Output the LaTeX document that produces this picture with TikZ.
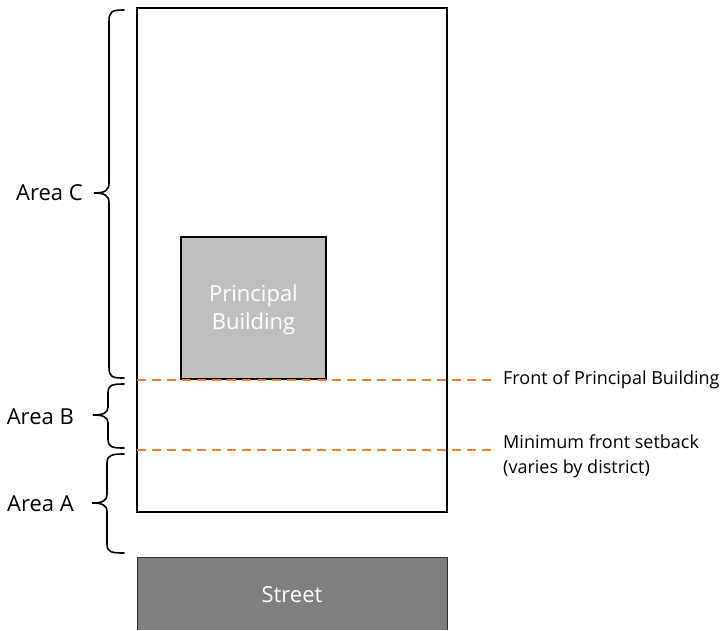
\documentclass[tikz,border=0pt]{standalone}
\usepackage{fontspec}
\setmainfont{Open Sans}
\definecolor{dashorange}{HTML}{ED7D31}
\definecolor{bldgray}{HTML}{BFBFBF}
\definecolor{streetgray}{HTML}{7F7F7F}
\definecolor{streetedge}{HTML}{1F3344}
\begin{document}
\begin{tikzpicture}[x=1pt,y=-1pt,
  lot/.style={draw=black,line width=1.5pt},
  bld/.style={draw=black,line width=1.4pt,fill=bldgray},
  setback/.style={draw=dashorange,line width=1.6pt,dash pattern=on 9pt off 6pt},
  bracestyle/.style={draw=black,line width=1.6pt,line cap=round},
  arealabel/.style={font=\fontsize{22}{26}\selectfont,anchor=east,inner sep=0pt},
  sidelabel/.style={font=\fontsize{18}{25}\selectfont,anchor=west,inner sep=0pt,align=left},
  whitetext/.style={text=white,align=center}]
\useasboundingbox (0,0) rectangle (723,630);
% lot
\node[lot,minimum width=310pt,minimum height=504pt,inner sep=0pt] (lot) at (292,260) {};
% street
\fill[streetgray] (137,557) rectangle (447,630);
\draw[streetedge,line width=1pt] (137,630) -- (137,557) -- (447,557) -- (447,630);
\node[whitetext,font=\fontsize{22}{26}\selectfont] (street) at (292,595) {Street};
% principal building
\node[bld,minimum width=145pt,minimum height=142pt,inner sep=0pt,whitetext,
  font=\fontsize{22}{28}\selectfont] (bld) at (253.5,308) {};
\node[whitetext,font=\fontsize{22}{28}\selectfont,inner sep=0pt] (bldtext) at (253.5,310) {Principal\\Building};
% setback lines
\coordinate (f1) at (137,380);
\coordinate (f2) at (497,380);
\coordinate (m1) at (137,450);
\coordinate (m2) at (497,450);
\draw[setback] (f1) -- (f2);
\draw[setback] (m1) -- (m2);
\node[sidelabel] (flabel) at (503,380) {Front of Principal Building};
\node[sidelabel] (mlabel) at (503,456) {Minimum front setback\\(varies by district)};
% braces
% Area C
\draw[bracestyle] (124,10) .. controls (112,10) and (109,11) .. (109,22)
  -- (109,183) .. controls (109,191) and (104,193) .. (94,193)
  .. controls (104,193) and (109,195) .. (109,203)
  -- (109,367) .. controls (109,377) and (112,378) .. (124,378);
\node[arealabel] (areaC) at (83,193) {Area C};
% Area B
\draw[bracestyle] (124,384) .. controls (112,384) and (108,385) .. (108,393)
  -- (108,407) .. controls (108,413) and (103,415) .. (93,415)
  .. controls (103,415) and (108,417) .. (108,423)
  -- (108,439) .. controls (108,447) and (112,448) .. (124,448);
\node[arealabel] (areaB) at (74,417) {Area B};
% Area A
\draw[bracestyle] (124,454) .. controls (112,454) and (107,455) .. (107,463)
  -- (107,494) .. controls (107,501) and (102,503) .. (92,503)
  .. controls (102,503) and (107,505) .. (107,512)
  -- (107,544) .. controls (107,552) and (111,553) .. (124,553);
\node[arealabel] (areaA) at (74,504) {Area A};
\end{tikzpicture}
\end{document}
